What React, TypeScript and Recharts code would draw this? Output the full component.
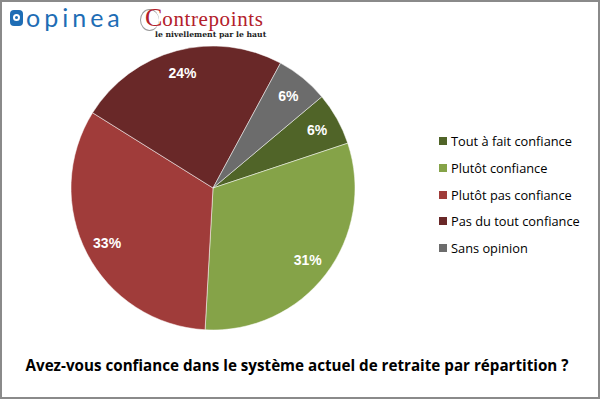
import React from "react";
import { PieChart, Pie, Cell, Legend } from "recharts";

const categories = [
  "Tout à fait confiance",
  "Plutôt confiance",
  "Plutôt pas confiance",
  "Pas du tout confiance",
  "Sans opinion",
];
const values = [6, 31, 33, 24, 6];
const colors = ["#506428", "#85A348", "#A03C3A", "#692828", "#6C6C6C"];
const title = "Avez-vous confiance dans le système actuel de retraite par répartition ?";

const data = categories.map((name, i) => ({ name, value: values[i] }));

const RAD = Math.PI / 180;
const renderLabel = (props: any) => {
  const { cx, cy, midAngle, outerRadius, value } = props;
  const r = outerRadius * 0.84;
  const x = cx + r * Math.cos(-midAngle * RAD);
  const y = cy + r * Math.sin(-midAngle * RAD);
  return (
    <text
      x={x}
      y={y}
      fill="#ffffff"
      textAnchor="middle"
      dominantBaseline="central"
      fontFamily="Liberation Sans, Arial, sans-serif"
      fontWeight="bold"
      fontSize={14}
    >
      {value}%
    </text>
  );
};

const renderLegend = () => (
  <div style={{ fontFamily: "Open Sans, sans-serif", fontSize: 12.8, color: "#000" }}>
    {categories.map((c, i) => (
      <div key={c} style={{ display: "flex", alignItems: "center", height: 26.7 }}>
        <span style={{ display: "inline-block", width: 8, height: 8, background: colors[i], marginRight: 4 }} />
        <span>{c}</span>
      </div>
    ))}
  </div>
);

export default function App() {
  return (
    <div style={{ position: "absolute", left: 0, top: 0, width: 600, height: 399, background: "#fff" }}>
      <div style={{ position: "absolute", left: 0, top: 0, width: 596, height: 395, border: "2px solid #8a8a8a" }} />
      {/* opinea logo */}
      <div style={{ position: "absolute", left: 10, top: 10, width: 13, height: 16, background: "#1E6DB5", borderRadius: 4 }}>
        <div style={{ position: "absolute", left: 3, top: 4, width: 7, height: 7, borderRadius: "50%", background: "#fff" }} />
        <div style={{ position: "absolute", left: 5, top: 6, width: 3, height: 3, borderRadius: "50%", background: "#1E6DB5" }} />
      </div>
      <div style={{ position: "absolute", left: 26, top: 2, fontFamily: "Lato, sans-serif", fontSize: 25, color: "#1E6DB5", letterSpacing: 4, lineHeight: "30px" }}>
        opinea
      </div>
      {/* Contrepoints logo */}
      <div style={{ position: "absolute", left: 140, top: 9, width: 18, height: 20, border: "1.5px solid #999", borderRight: "none", borderRadius: "50%" }} />
      <div style={{ position: "absolute", left: 145, top: 7, fontFamily: "Liberation Serif, serif", color: "#B3202A", lineHeight: "21px", height: 21, whiteSpace: "nowrap" }}>
        <span style={{ fontSize: 26 }}>C</span>
        <span style={{ fontSize: 21, letterSpacing: 0.6 }}>ontrepoints</span>
      </div>
      <div style={{ position: "absolute", left: 155, top: 30, fontFamily: "DejaVu Serif, serif", fontWeight: "bold", fontSize: 7.7, color: "#222", lineHeight: "9px", whiteSpace: "nowrap" }}>
        le nivellement par le haut
      </div>
      <div style={{ position: "absolute", left: 0, top: 0 }}>
        <PieChart width={600} height={399} margin={{ top: 0, right: 0, bottom: 0, left: 0 }}>
          <Pie
            data={data}
            dataKey="value"
            nameKey="name"
            cx={213}
            cy={188}
            outerRadius={142}
            startAngle={40}
            endAngle={-320}
            stroke="#ffffff"
            strokeWidth={0.5}
            label={renderLabel}
            labelLine={false}
            isAnimationActive={false}
          >
            {data.map((d, i) => (
              <Cell key={d.name} fill={colors[i]} />
            ))}
          </Pie>
          <Legend
            layout="vertical"
            align="right"
            verticalAlign="top"
            content={renderLegend}
            wrapperStyle={{ left: 439, top: 128, width: 160 }}
          />
        </PieChart>
      </div>
      <div style={{ position: "absolute", left: 0, top: 355, width: 594, textAlign: "center", fontFamily: "Open Sans, sans-serif", fontWeight: "bold", fontSize: 15.2, color: "#000", lineHeight: "20px", whiteSpace: "nowrap" }}>
        {title}
      </div>
    </div>
  );
}
